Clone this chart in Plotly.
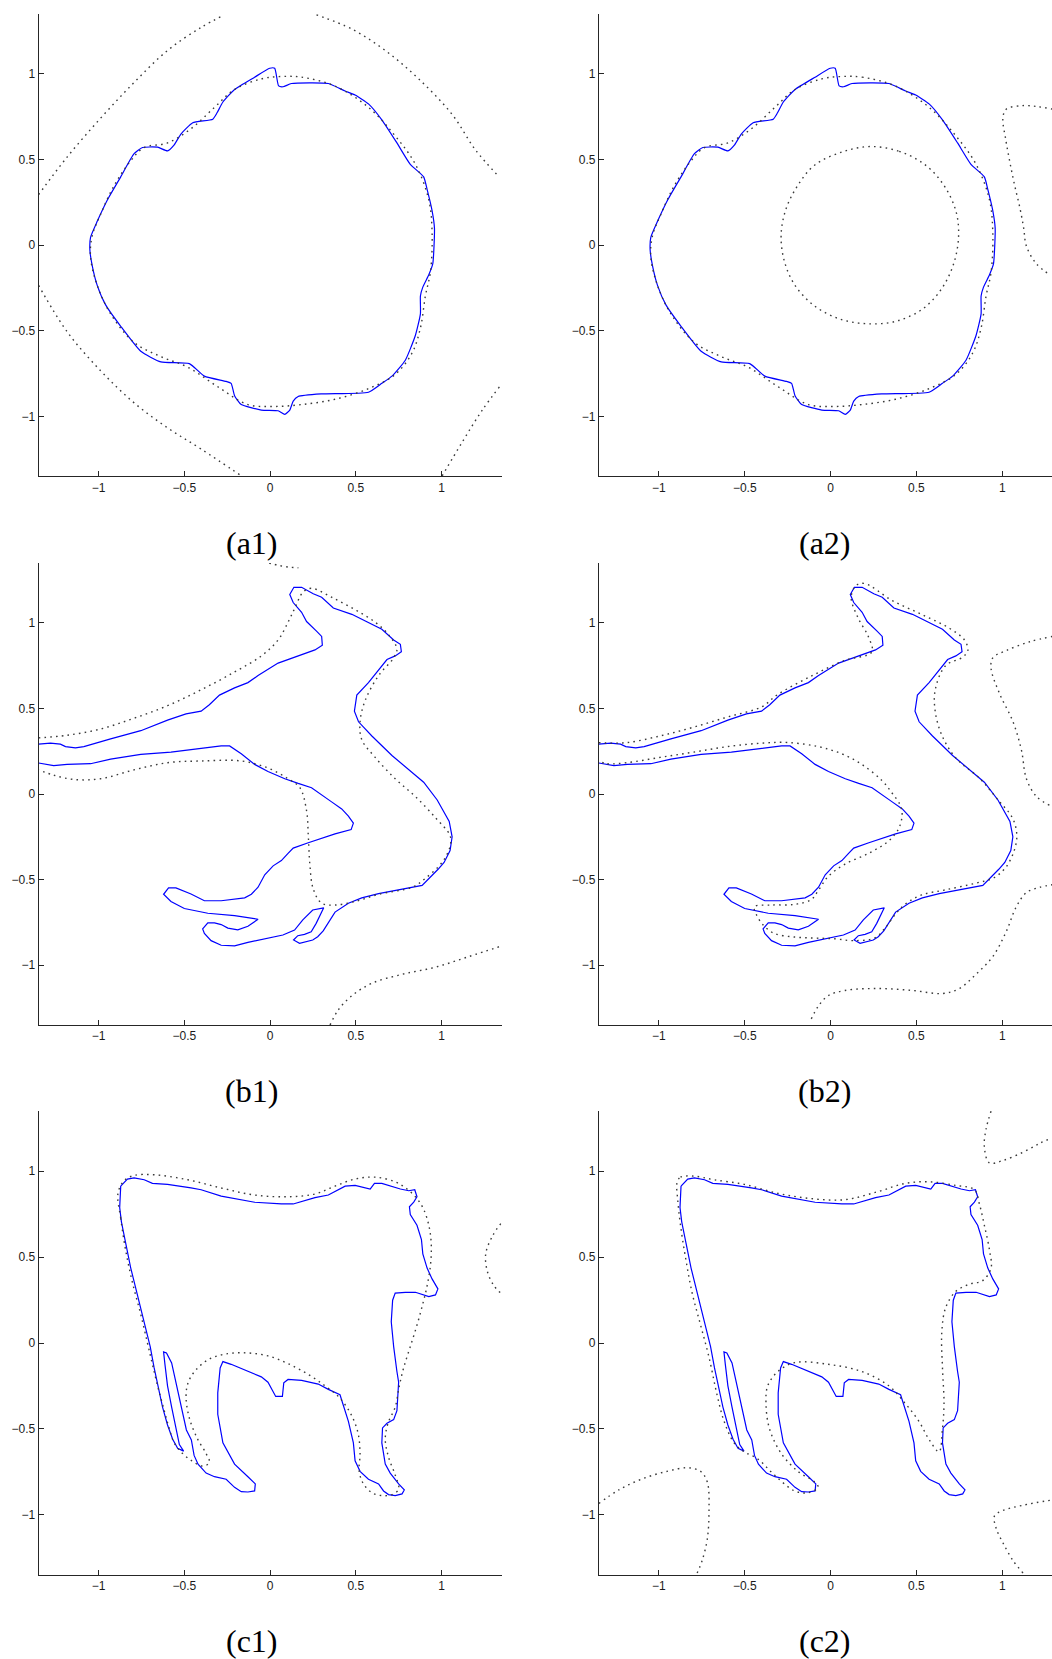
import plotly.graph_objects as go

# ---------------------------------------------------------------------------
# Contour data (x, y) in axis units
# ---------------------------------------------------------------------------

# Row (a): zero level set (blue) of the round shape, shared by a1 and a2
A_BLUE = [(0.027, 1.033), (0.05, 0.93), (0.076, 0.925), (0.125, 0.944), (0.34, 0.944),
          (0.4375, 0.90), (0.496, 0.877), (0.574, 0.825), (0.652, 0.732), (0.74, 0.597),
          (0.818, 0.472), (0.896, 0.399), (0.916, 0.326), (0.945, 0.202), (0.959, 0.098),
          (0.949, -0.11), (0.926, -0.173), (0.891, -0.245), (0.877, -0.297), (0.877, -0.401),
          (0.848, -0.526), (0.789, -0.672), (0.711, -0.765), (0.652, -0.807), (0.574, -0.859),
          (0.30, -0.869), (0.164, -0.884), (0.135, -0.911), (0.115, -0.963), (0.086, -0.988),
          (0.047, -0.967), (-0.051, -0.963), (-0.168, -0.931), (-0.207, -0.879), (-0.227, -0.807),
          (-0.256, -0.796), (-0.383, -0.765), (-0.471, -0.692), (-0.637, -0.682), (-0.754, -0.62),
          (-0.871, -0.474), (-0.959, -0.349), (-1.008, -0.235), (-1.037, -0.121), (-1.051, -0.027),
          (-1.047, 0.046), (-1.008, 0.139), (-0.949, 0.264), (-0.871, 0.399), (-0.793, 0.534),
          (-0.744, 0.570), (-0.656, 0.572), (-0.598, 0.551), (-0.559, 0.586), (-0.52, 0.649),
          (-0.451, 0.715), (-0.334, 0.736), (-0.309, 0.773), (-0.275, 0.836), (-0.207, 0.909),
          (-0.09, 0.981), (-0.002, 1.033)]

# Dotted level set hugging the blue boundary (a1, a2)
A_RING = [(0.066, 0.985), (0.184, 0.981), (0.379, 0.929), (0.574, 0.805), (0.73, 0.638),
          (0.848, 0.472), (0.926, 0.264), (0.945, 0.077), (0.936, -0.152), (0.906, -0.297),
          (0.877, -0.484), (0.828, -0.63), (0.73, -0.755), (0.574, -0.838), (0.379, -0.90),
          (0.184, -0.931), (0.027, -0.942), (-0.129, -0.931), (-0.305, -0.827), (-0.48, -0.713),
          (-0.637, -0.651), (-0.793, -0.568), (-0.93, -0.401), (-1.008, -0.235), (-1.047, -0.069),
          (-1.037, 0.056), (-0.988, 0.181), (-0.91, 0.347), (-0.8125, 0.493), (-0.734, 0.570),
          (-0.598, 0.597), (-0.461, 0.68), (-0.324, 0.805), (-0.207, 0.909), (-0.051, 0.971)]

# Outer dotted arcs of a1
A1_ARC_NW = [(-1.35, 0.295), (-1.184, 0.514), (-0.988, 0.742), (-0.793, 0.95),
             (-0.598, 1.137), (-0.402, 1.272), (-0.266, 1.345)]
A1_ARC_NE = [(0.271, 1.345), (0.477, 1.262), (0.672, 1.137), (0.867, 0.971),
             (1.0625, 0.763), (1.199, 0.555), (1.336, 0.399)]
A1_ARC_SW = [(-1.35, -0.235), (-1.184, -0.505), (-0.988, -0.734), (-0.793, -0.921),
             (-0.598, -1.067), (-0.402, -1.191), (-0.168, -1.347)]
A1_ARC_SE = [(1.004, -1.347), (1.121, -1.15), (1.238, -0.963), (1.346, -0.817)]

# Inner dotted loop and right-hand dotted curve of a2
A2_INNER = [(0.23, 0.576), (0.40, 0.548), (0.55, 0.47), (0.66, 0.35), (0.73, 0.20),
            (0.746, 0.06), (0.72, -0.10), (0.65, -0.25), (0.54, -0.37), (0.38, -0.445),
            (0.21, -0.459), (0.05, -0.43), (-0.10, -0.35), (-0.21, -0.23), (-0.27, -0.09),
            (-0.288, 0.06), (-0.26, 0.21), (-0.19, 0.35), (-0.09, 0.47), (0.07, 0.545)]
A2_RIGHT = [(1.294, 0.794), (1.2, 0.81), (1.121, 0.815), (1.023, 0.794), (1.004, 0.742),
            (1.02, 0.62), (1.043, 0.493), (1.07, 0.36), (1.102, 0.222), (1.125, 0.10),
            (1.141, -0.006), (1.2, -0.11), (1.278, -0.173)]

# Row (b): blue zero level set, shared by b1 and b2 (enters and leaves on the left edge)
B_BLUE = [(-1.35, 0.291), (-1.281, 0.297), (-1.223, 0.291), (-1.193, 0.277), (-1.135, 0.270),
          (-1.086, 0.277), (-0.93, 0.322), (-0.754, 0.37), (-0.598, 0.432), (-0.49, 0.468),
          (-0.402, 0.484), (-0.354, 0.522), (-0.295, 0.578), (-0.207, 0.620), (-0.129, 0.651),
          (-0.07, 0.692), (0.047, 0.765), (0.184, 0.817), (0.262, 0.842), (0.305, 0.869),
          (0.301, 0.921), (0.271, 0.952), (0.213, 1.008), (0.184, 1.062), (0.135, 1.119),
          (0.115, 1.166), (0.139, 1.208), (0.184, 1.208), (0.252, 1.17), (0.301, 1.15),
          (0.369, 1.087), (0.477, 1.05), (0.574, 1.004), (0.652, 0.963), (0.721, 0.90),
          (0.76, 0.875), (0.766, 0.832), (0.73, 0.807), (0.682, 0.786), (0.574, 0.651),
          (0.506, 0.578), (0.492, 0.484), (0.516, 0.422), (0.594, 0.339), (0.711, 0.225),
          (0.809, 0.141), (0.896, 0.069), (0.975, -0.035), (1.045, -0.16), (1.062, -0.25),
          (1.05, -0.33), (1.015, -0.40), (0.98, -0.44), (0.887, -0.534), (0.828, -0.545),
          (0.73, -0.565), (0.633, -0.582), (0.535, -0.607), (0.457, -0.638), (0.379, -0.69),
          (0.31, -0.80), (0.278, -0.834), (0.249, -0.853), (0.172, -0.873), (0.137, -0.853),
          (0.162, -0.828), (0.201, -0.82), (0.24, -0.805), (0.269, -0.756), (0.313, -0.665),
          (0.249, -0.678), (0.191, -0.736), (0.143, -0.795), (0.075, -0.824), (-0.003, -0.84),
          (-0.129, -0.867), (-0.207, -0.888), (-0.285, -0.884), (-0.344, -0.857), (-0.383, -0.815),
          (-0.393, -0.788), (-0.363, -0.753), (-0.324, -0.753), (-0.285, -0.763), (-0.246, -0.784),
          (-0.188, -0.794), (-0.129, -0.773), (-0.07, -0.732), (-0.207, -0.711), (-0.363, -0.697),
          (-0.5, -0.669), (-0.578, -0.628), (-0.621, -0.586), (-0.592, -0.549), (-0.549, -0.549),
          (-0.461, -0.584), (-0.383, -0.624), (-0.285, -0.624), (-0.148, -0.607), (-0.109, -0.586),
          (-0.07, -0.545), (-0.031, -0.472), (0.018, -0.42), (0.066, -0.389), (0.105, -0.347),
          (0.135, -0.316), (0.223, -0.285), (0.379, -0.233), (0.473, -0.208), (0.486, -0.170),
          (0.457, -0.129), (0.418, -0.087), (0.359, -0.046), (0.301, -0.004), (0.242, 0.037),
          (0.164, 0.062), (0.086, 0.089), (-0.012, 0.131), (-0.09, 0.173), (-0.168, 0.235),
          (-0.236, 0.281), (-0.285, 0.281), (-0.402, 0.266), (-0.578, 0.245), (-0.754, 0.231),
          (-0.93, 0.204), (-1.047, 0.177), (-1.184, 0.173), (-1.262, 0.166), (-1.311, 0.173),
          (-1.35, 0.181)]

# Dotted level sets of b1
B1_MAIN = [(-1.35, 0.328), (-1.184, 0.343), (-0.988, 0.38), (-0.793, 0.443), (-0.598, 0.516),
           (-0.402, 0.609), (-0.207, 0.713), (-0.051, 0.807), (0.047, 0.90), (0.105, 1.004),
           (0.145, 1.087), (0.193, 1.181), (0.242, 1.202), (0.359, 1.15), (0.496, 1.077),
           (0.613, 1.004), (0.691, 0.931), (0.74, 0.848), (0.721, 0.796), (0.633, 0.692),
           (0.555, 0.547), (0.525, 0.422), (0.535, 0.318), (0.613, 0.214), (0.73, 0.089),
           (0.848, -0.015), (0.965, -0.139), (1.05, -0.243), (1.05, -0.306), (1.004, -0.399),
           (0.906, -0.493), (0.828, -0.545), (0.633, -0.586), (0.496, -0.628), (0.379, -0.649),
           (0.301, -0.638), (0.252, -0.555), (0.232, -0.41), (0.223, -0.243), (0.213, -0.098),
           (0.174, 0.037), (0.105, 0.089), (-0.012, 0.152), (-0.168, 0.193), (-0.402, 0.193),
           (-0.598, 0.183), (-0.793, 0.141), (-0.988, 0.089), (-1.145, 0.085), (-1.262, 0.110),
           (-1.35, 0.141)]
B1_TOP = [(-0.005, 1.35), (0.05, 1.336), (0.11, 1.326), (0.165, 1.322)]
B1_LOW = [(0.35, -1.35), (0.398, -1.262), (0.477, -1.179), (0.594, -1.106), (0.77, -1.054),
          (0.965, -1.012), (1.16, -0.95), (1.35, -0.888)]

# Dotted level sets of b2
B2_MAIN = [(-1.35, 0.30), (-1.19, 0.30), (-0.99, 0.34), (-0.80, 0.39), (-0.60, 0.45),
           (-0.40, 0.51), (-0.31, 0.58), (-0.11, 0.69), (0.08, 0.78), (0.24, 0.83),
           (0.22, 0.92), (0.16, 1.03), (0.12, 1.15), (0.15, 1.22), (0.20, 1.23),
           (0.36, 1.13), (0.53, 1.05), (0.69, 0.97), (0.78, 0.90), (0.80, 0.84),
           (0.77, 0.80), (0.67, 0.75), (0.61, 0.61), (0.61, 0.48), (0.65, 0.34),
           (0.73, 0.21), (0.87, 0.09), (0.98, -0.04), (1.06, -0.14), (1.085, -0.24),
           (1.07, -0.33), (1.02, -0.43), (0.95, -0.49), (0.85, -0.52), (0.67, -0.56),
           (0.53, -0.59), (0.44, -0.64), (0.38, -0.70), (0.32, -0.78), (0.26, -0.84),
           (0.13, -0.857), (0.025, -0.846), (-0.092, -0.842), (-0.209, -0.836), (-0.327, -0.815),
           (-0.395, -0.763), (-0.434, -0.70), (-0.444, -0.659), (-0.346, -0.649), (-0.209, -0.645),
           (-0.112, -0.617), (-0.072, -0.565), (-0.014, -0.482), (0.084, -0.41), (0.221, -0.347),
           (0.339, -0.274), (0.397, -0.202), (0.417, -0.119), (0.407, -0.067), (0.358, 0.006),
           (0.299, 0.079), (0.182, 0.173), (0.065, 0.235), (-0.072, 0.277), (-0.249, 0.301),
           (-0.405, 0.297), (-0.601, 0.277), (-0.796, 0.245), (-0.992, 0.214), (-1.188, 0.183),
           (-1.305, 0.177), (-1.35, 0.193)]
B2_RIGHT = [(1.294, 0.921), (1.16, 0.89), (1.023, 0.838), (0.945, 0.796), (0.935, 0.734),
            (0.984, 0.588), (1.063, 0.422), (1.112, 0.256), (1.141, 0.089), (1.2, -0.015),
            (1.278, -0.067)]
B2_LOW = [(-0.112, -1.314), (-0.072, -1.241), (-0.014, -1.179), (0.084, -1.148), (0.28, -1.137),
          (0.476, -1.148), (0.652, -1.166), (0.75, -1.137), (0.847, -1.054), (0.945, -0.95),
          (1.023, -0.805), (1.082, -0.659), (1.141, -0.576), (1.219, -0.545), (1.294, -0.530)]

# Row (c): blue zero level set of the cow outline, shared by c1 and c2
C_BLUE = [(-0.871, 0.913), (-0.832, 0.954), (-0.793, 0.961), (-0.734, 0.950), (-0.686, 0.929),
          (-0.598, 0.923), (-0.461, 0.903), (-0.402, 0.892), (-0.285, 0.855), (-0.09, 0.819),
          (0.066, 0.809), (0.135, 0.809), (0.262, 0.846), (0.34, 0.861), (0.438, 0.913),
          (0.496, 0.917), (0.584, 0.896), (0.609, 0.929), (0.652, 0.929), (0.76, 0.896),
          (0.809, 0.886), (0.844, 0.892), (0.857, 0.851), (0.838, 0.82), (0.813, 0.793),
          (0.818, 0.747), (0.857, 0.685), (0.883, 0.602), (0.891, 0.519), (0.916, 0.436),
          (0.945, 0.373), (0.979, 0.315), (0.965, 0.28), (0.926, 0.27), (0.848, 0.295),
          (0.789, 0.295), (0.73, 0.29), (0.715, 0.249), (0.707, 0.124), (0.721, -0.021),
          (0.74, -0.166), (0.75, -0.228), (0.74, -0.394), (0.721, -0.446), (0.682, -0.467),
          (0.656, -0.494), (0.652, -0.581), (0.672, -0.705), (0.701, -0.757), (0.75, -0.82),
          (0.783, -0.855), (0.77, -0.878), (0.73, -0.888), (0.691, -0.882), (0.662, -0.861),
          (0.633, -0.82), (0.574, -0.793), (0.525, -0.747), (0.496, -0.685), (0.486, -0.581),
          (0.457, -0.456), (0.408, -0.301), (0.34, -0.27), (0.281, -0.239), (0.184, -0.218),
          (0.105, -0.212), (0.08, -0.232), (0.072, -0.311), (0.033, -0.311), (-0.012, -0.228),
          (-0.051, -0.197), (-0.148, -0.156), (-0.227, -0.124), (-0.275, -0.108), (-0.291, -0.145),
          (-0.305, -0.29), (-0.305, -0.415), (-0.275, -0.581), (-0.207, -0.705), (-0.129, -0.778),
          (-0.086, -0.82), (-0.09, -0.861), (-0.129, -0.867), (-0.168, -0.865), (-0.207, -0.84),
          (-0.256, -0.793), (-0.324, -0.778), (-0.373, -0.757), (-0.42, -0.705), (-0.443, -0.654),
          (-0.459, -0.564), (-0.488, -0.506), (-0.518, -0.371), (-0.545, -0.255), (-0.574, -0.116),
          (-0.604, -0.058), (-0.621, -0.052), (-0.613, -0.124), (-0.598, -0.249), (-0.574, -0.373),
          (-0.549, -0.498), (-0.529, -0.591), (-0.504, -0.629), (-0.539, -0.612), (-0.568, -0.56),
          (-0.598, -0.477), (-0.627, -0.373), (-0.656, -0.249), (-0.676, -0.145), (-0.699, -0.021),
          (-0.734, 0.124), (-0.773, 0.27), (-0.8125, 0.436), (-0.842, 0.581), (-0.867, 0.705),
          (-0.877, 0.788)]

# Dotted level sets of c1
C1_MAIN = [(-0.887, 0.871), (-0.871, 0.726), (-0.842, 0.539), (-0.803, 0.353), (-0.754, 0.166),
           (-0.715, 0.0), (-0.686, -0.124), (-0.656, -0.249), (-0.617, -0.394), (-0.588, -0.498),
           (-0.559, -0.581), (-0.51, -0.643), (-0.451, -0.689), (-0.393, -0.716), (-0.354, -0.695),
           (-0.373, -0.643), (-0.422, -0.56), (-0.471, -0.436), (-0.49, -0.311), (-0.477, -0.228),
           (-0.432, -0.156), (-0.354, -0.093), (-0.246, -0.062), (-0.129, -0.058), (-0.012, -0.075),
           (0.105, -0.12), (0.223, -0.183), (0.32, -0.249), (0.398, -0.311), (0.467, -0.405),
           (0.512, -0.519), (0.525, -0.643), (0.52, -0.747), (0.545, -0.82), (0.594, -0.871),
           (0.652, -0.888), (0.711, -0.882), (0.75, -0.851), (0.73, -0.768), (0.691, -0.664),
           (0.672, -0.56), (0.688, -0.467), (0.73, -0.373), (0.754, -0.249), (0.779, -0.145),
           (0.818, -0.021), (0.857, 0.104), (0.891, 0.228), (0.916, 0.332), (0.936, 0.456),
           (0.94, 0.581), (0.926, 0.685), (0.896, 0.778), (0.857, 0.84), (0.799, 0.896),
           (0.73, 0.938), (0.613, 0.965), (0.496, 0.954), (0.379, 0.913), (0.262, 0.867),
           (0.105, 0.851), (-0.09, 0.861), (-0.285, 0.902), (-0.48, 0.95), (-0.676, 0.979),
           (-0.793, 0.975), (-0.852, 0.944)]
C1_RIGHT = [(1.346, 0.695), (1.297, 0.622), (1.258, 0.519), (1.268, 0.415), (1.307, 0.332),
            (1.346, 0.29)]

# Dotted level sets of c2
C2_MAIN = [(-0.894, 0.934), (-0.874, 0.965), (-0.796, 0.971), (-0.679, 0.95), (-0.503, 0.923),
           (-0.307, 0.871), (-0.112, 0.84), (0.084, 0.834), (0.28, 0.882), (0.436, 0.929),
           (0.573, 0.938), (0.73, 0.917), (0.838, 0.892), (0.867, 0.809), (0.896, 0.685),
           (0.926, 0.539), (0.935, 0.436), (0.886, 0.363), (0.808, 0.342), (0.73, 0.301),
           (0.671, 0.207), (0.648, 0.062), (0.652, -0.145), (0.661, -0.353), (0.652, -0.498),
           (0.632, -0.633), (0.573, -0.56), (0.515, -0.456), (0.436, -0.353), (0.339, -0.249),
           (0.182, -0.166), (-0.014, -0.124), (-0.209, -0.114), (-0.307, -0.166), (-0.366, -0.249),
           (-0.376, -0.353), (-0.356, -0.498), (-0.287, -0.643), (-0.19, -0.747), (-0.092, -0.809),
           (-0.072, -0.84), (-0.131, -0.871), (-0.209, -0.861), (-0.327, -0.768), (-0.425, -0.674),
           (-0.503, -0.633), (-0.562, -0.581), (-0.62, -0.456), (-0.659, -0.311), (-0.708, -0.083),
           (-0.757, 0.104), (-0.806, 0.29), (-0.845, 0.498), (-0.874, 0.685), (-0.89, 0.83)]
C2_TOP = [(0.935, 1.349), (0.906, 1.245), (0.896, 1.141), (0.925, 1.048), (1.004, 1.062),
          (1.121, 1.11), (1.219, 1.162), (1.288, 1.193)]
C2_SW = [(-1.35, -0.934), (-1.227, -0.851), (-1.09, -0.788), (-0.953, -0.747), (-0.836, -0.726),
         (-0.757, -0.747), (-0.718, -0.809), (-0.708, -0.975), (-0.718, -1.141), (-0.748, -1.266),
         (-0.777, -1.338)]
C2_SE = [(1.121, -1.338), (1.063, -1.266), (1.004, -1.162), (0.965, -1.079), (0.955, -1.006),
         (1.004, -0.975), (1.121, -0.944), (1.294, -0.913)]

# Axis ticks
TICK_VALUES = [-1, -0.5, 0, 0.5, 1]
TICK_TEXT = ["\u22121", "\u22120.5", "0", "0.5", "1"]

PANEL_LABELS = ["(a1)", "(a2)", "(b1)", "(b2)", "(c1)", "(c2)"]

# ---------------------------------------------------------------------------
# Layout geometry (paper fractions for a 1052 x 1659 page)
# ---------------------------------------------------------------------------
W, H = 1052, 1659
COL_X = [(38.6 / W, 501.5 / W), (598.8 / W, 1.0)]
COL_RANGE = [[-1.35, 1.35], [-1.35, 1.29]]
ROW_Y = [(1 - 476.3 / H, 1 - 14.0 / H), (1 - 1025.0 / H, 1 - 563.0 / H), (1 - 1575.0 / H, 1 - 1111.0 / H)]
LABEL_X = [251.5 / W, 824.7 / W]
LABEL_Y = [1 - 543.0 / H, 1 - 1091.0 / H, 1 - 1641.0 / H]

BLUE = "#0000ff"
DOT = "#3a3a3a"

# curves per panel: (points, closed, kind)
PANELS = [
    [(A_BLUE, True, "blue_smooth"), (A_RING, True, "dot"), (A1_ARC_NW, False, "dot"),
     (A1_ARC_NE, False, "dot"), (A1_ARC_SW, False, "dot"), (A1_ARC_SE, False, "dot")],
    [(A_BLUE, True, "blue_smooth"), (A_RING, True, "dot"), (A2_INNER, True, "dot"),
     (A2_RIGHT, False, "dot")],
    [(B_BLUE, False, "blue"), (B1_MAIN, False, "dot"), (B1_TOP, False, "dot"),
     (B1_LOW, False, "dot")],
    [(B_BLUE, False, "blue"), (B2_MAIN, False, "dot"), (B2_RIGHT, False, "dot"),
     (B2_LOW, False, "dot")],
    [(C_BLUE, True, "blue"), (C1_MAIN, True, "dot"), (C1_RIGHT, False, "dot")],
    [(C_BLUE, True, "blue"), (C2_MAIN, True, "dot"), (C2_TOP, False, "dot"),
     (C2_SW, False, "dot"), (C2_SE, False, "dot")],
]

fig = go.Figure()

for i, curves in enumerate(PANELS):
    n = i + 1
    xa = "x" if n == 1 else f"x{n}"
    ya = "y" if n == 1 else f"y{n}"
    for pts, closed, kind in curves:
        p = list(pts) + ([pts[0]] if closed else [])
        xs = [q[0] for q in p]
        ys = [q[1] for q in p]
        if kind == "dot":
            line = dict(color=DOT, width=1.4, dash="1.6px,4.2px", shape="spline", smoothing=1.0)
        elif kind == "blue_smooth":
            line = dict(color=BLUE, width=1.2, shape="spline", smoothing=0.5)
        else:
            line = dict(color=BLUE, width=1.2)
        fig.add_trace(go.Scatter(x=xs, y=ys, mode="lines", line=line,
                                 xaxis=xa, yaxis=ya, hoverinfo="skip", showlegend=False))

axis_common = dict(
    showline=True, linecolor="#262626", linewidth=1,
    ticks="inside", ticklen=5, tickwidth=1, tickcolor="#262626",
    tickvals=TICK_VALUES, ticktext=TICK_TEXT,
    tickfont=dict(family="Liberation Sans, Arial, sans-serif", size=12, color="#1a1a1a"),
    showgrid=False, zeroline=False, mirror=False, fixedrange=True,
)

layout = dict(
    width=W, height=H,
    margin=dict(l=0, r=0, t=0, b=0),
    paper_bgcolor="white", plot_bgcolor="white",
    showlegend=False,
    annotations=[],
)

for i in range(6):
    n = i + 1
    row, col = divmod(i, 2)
    xk = "xaxis" if n == 1 else f"xaxis{n}"
    yk = "yaxis" if n == 1 else f"yaxis{n}"
    ya = "y" if n == 1 else f"y{n}"
    xa = "x" if n == 1 else f"x{n}"
    layout[xk] = dict(axis_common, domain=list(COL_X[col]), range=COL_RANGE[col], anchor=ya)
    layout[yk] = dict(axis_common, domain=list(ROW_Y[row]), range=[-1.35, 1.35], anchor=xa)
    layout["annotations"].append(dict(
        text=PANEL_LABELS[i], xref="paper", yref="paper",
        x=LABEL_X[col], y=LABEL_Y[row], xanchor="center", yanchor="middle",
        showarrow=False, font=dict(family="Liberation Serif, Times New Roman, serif", size=32, color="black"),
    ))

fig.update_layout(layout)
fig.write_html("out.html")
